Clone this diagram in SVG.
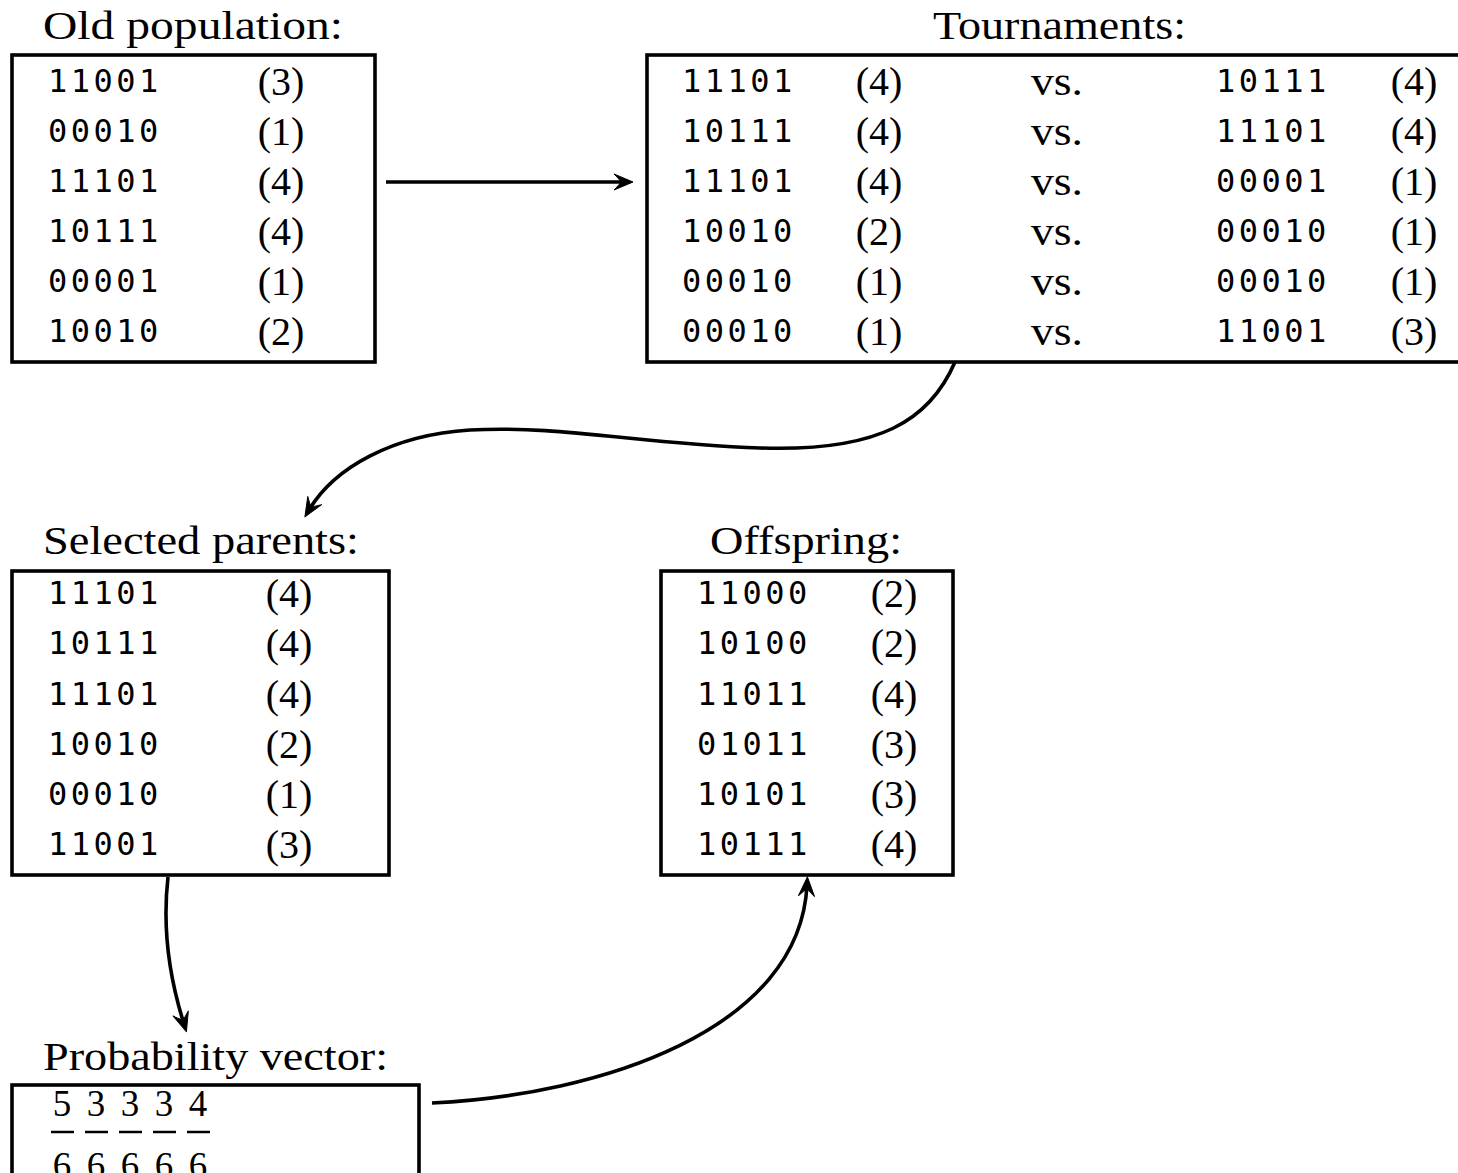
<svg xmlns="http://www.w3.org/2000/svg" width="1458" height="1173" viewBox="0 0 1458 1173">
<defs>
<style>
.box{fill:#fff;stroke:#000;stroke-width:3.6}
.title{font-family:"Liberation Serif","Times New Roman",serif;font-size:39px;fill:#000}
.mono{font-family:"DejaVu Sans Mono","Liberation Mono",monospace;font-size:32px;letter-spacing:3.5px;fill:#000}
.num{font-family:"Liberation Serif","Times New Roman",serif;font-size:40px;fill:#000;text-anchor:middle}
.frac{font-family:"Liberation Serif","Times New Roman",serif;font-size:37px;fill:#000;text-anchor:middle}
.conn{fill:none;stroke:#000;stroke-width:3.6;marker-end:url(#arr)}
.bar{stroke:#000;stroke-width:2.5}
</style>
<marker id="arr" viewBox="-22 -10 24 20" refX="-8" refY="0" markerWidth="24" markerHeight="20" markerUnits="userSpaceOnUse" orient="auto">
<path d="M0,0 L-19,-8 Q-13,-2 -12,0 Q-13,2 -19,8 Z" fill="#000" stroke="#000" stroke-width="1" stroke-linejoin="round"/>
</marker>
</defs>
<rect width="1458" height="1173" fill="#fff"/>

<g id="old-population">
<text class="title" x="43" y="39" textLength="300" lengthAdjust="spacingAndGlyphs">Old population:</text>
<rect class="box" x="12" y="55" width="363" height="307"/>
<text class="mono" x="48" y="92">11001</text><text class="num" x="281" y="95">(3)</text>
<text class="mono" x="48" y="142">00010</text><text class="num" x="281" y="145">(1)</text>
<text class="mono" x="48" y="192">11101</text><text class="num" x="281" y="195">(4)</text>
<text class="mono" x="48" y="242">10111</text><text class="num" x="281" y="245">(4)</text>
<text class="mono" x="48" y="292">00001</text><text class="num" x="281" y="295">(1)</text>
<text class="mono" x="48" y="342">10010</text><text class="num" x="281" y="345">(2)</text>
</g>

<g id="tournaments">
<text class="title" x="933" y="39" textLength="253" lengthAdjust="spacingAndGlyphs">Tournaments:</text>
<rect class="box" x="647" y="55" width="830" height="307"/>
<text class="mono" x="682" y="92">11101</text><text class="num" x="879" y="95">(4)</text><text class="num" x="1057" y="95" textLength="52" lengthAdjust="spacingAndGlyphs">vs.</text><text class="mono" x="1216" y="92">10111</text><text class="num" x="1414" y="95">(4)</text>
<text class="mono" x="682" y="142">10111</text><text class="num" x="879" y="145">(4)</text><text class="num" x="1057" y="145" textLength="52" lengthAdjust="spacingAndGlyphs">vs.</text><text class="mono" x="1216" y="142">11101</text><text class="num" x="1414" y="145">(4)</text>
<text class="mono" x="682" y="192">11101</text><text class="num" x="879" y="195">(4)</text><text class="num" x="1057" y="195" textLength="52" lengthAdjust="spacingAndGlyphs">vs.</text><text class="mono" x="1216" y="192">00001</text><text class="num" x="1414" y="195">(1)</text>
<text class="mono" x="682" y="242">10010</text><text class="num" x="879" y="245">(2)</text><text class="num" x="1057" y="245" textLength="52" lengthAdjust="spacingAndGlyphs">vs.</text><text class="mono" x="1216" y="242">00010</text><text class="num" x="1414" y="245">(1)</text>
<text class="mono" x="682" y="292">00010</text><text class="num" x="879" y="295">(1)</text><text class="num" x="1057" y="295" textLength="52" lengthAdjust="spacingAndGlyphs">vs.</text><text class="mono" x="1216" y="292">00010</text><text class="num" x="1414" y="295">(1)</text>
<text class="mono" x="682" y="342">00010</text><text class="num" x="879" y="345">(1)</text><text class="num" x="1057" y="345" textLength="52" lengthAdjust="spacingAndGlyphs">vs.</text><text class="mono" x="1216" y="342">11001</text><text class="num" x="1414" y="345">(3)</text>
</g>

<g id="selected-parents">
<text class="title" x="43" y="554" textLength="316" lengthAdjust="spacingAndGlyphs">Selected parents:</text>
<rect class="box" x="12" y="571" width="377" height="304"/>
<text class="mono" x="48" y="604">11101</text><text class="num" x="289" y="607">(4)</text>
<text class="mono" x="48" y="654">10111</text><text class="num" x="289" y="657">(4)</text>
<text class="mono" x="48" y="705">11101</text><text class="num" x="289" y="708">(4)</text>
<text class="mono" x="48" y="755">10010</text><text class="num" x="289" y="758">(2)</text>
<text class="mono" x="48" y="805">00010</text><text class="num" x="289" y="808">(1)</text>
<text class="mono" x="48" y="855">11001</text><text class="num" x="289" y="858">(3)</text>
</g>

<g id="offspring">
<text class="title" x="710" y="554" textLength="192" lengthAdjust="spacingAndGlyphs">Offspring:</text>
<rect class="box" x="661" y="571" width="292" height="304"/>
<text class="mono" x="697" y="604">11000</text><text class="num" x="894" y="607">(2)</text>
<text class="mono" x="697" y="654">10100</text><text class="num" x="894" y="657">(2)</text>
<text class="mono" x="697" y="705">11011</text><text class="num" x="894" y="708">(4)</text>
<text class="mono" x="697" y="755">01011</text><text class="num" x="894" y="758">(3)</text>
<text class="mono" x="697" y="805">10101</text><text class="num" x="894" y="808">(3)</text>
<text class="mono" x="697" y="855">10111</text><text class="num" x="894" y="858">(4)</text>
</g>

<g id="probability-vector">
<text class="title" x="43" y="1070" textLength="345" lengthAdjust="spacingAndGlyphs">Probability vector:</text>
<rect class="box" x="12" y="1085" width="407" height="120"/>
<text class="frac" x="62" y="1116">5</text><text class="frac" x="96" y="1116">3</text><text class="frac" x="130" y="1116">3</text><text class="frac" x="164" y="1116">3</text><text class="frac" x="198" y="1116">4</text>
<line class="bar" x1="51" y1="1132" x2="74" y2="1132"/><line class="bar" x1="85" y1="1132" x2="108" y2="1132"/><line class="bar" x1="119" y1="1132" x2="142" y2="1132"/><line class="bar" x1="153" y1="1132" x2="176" y2="1132"/><line class="bar" x1="187" y1="1132" x2="210" y2="1132"/>
<text class="frac" x="62" y="1178">6</text><text class="frac" x="96" y="1178">6</text><text class="frac" x="130" y="1178">6</text><text class="frac" x="164" y="1178">6</text><text class="frac" x="198" y="1178">6</text>
</g>

<g id="connectors">
<path class="conn" d="M386,182 H625"/>
<path class="conn" d="M955,362 C930,420 880,452 760,448 C640,444 560,425 470,430 C392,435 334,468 309,510"/>
<path class="conn" d="M168,877 C162,930 170,980 184,1024"/>
<path class="conn" d="M432,1103 C600,1095 800,1030 807,885"/>
</g>
</svg>
